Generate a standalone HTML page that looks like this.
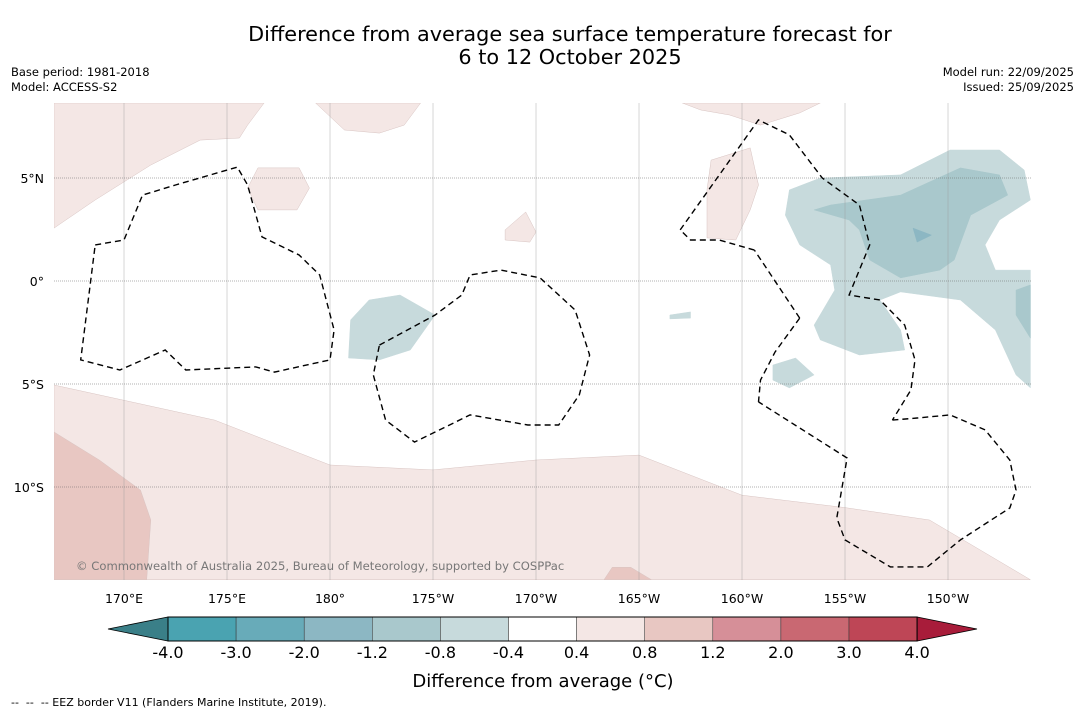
<!DOCTYPE html>
<html><head><meta charset="utf-8"><style>
body{margin:0;background:#fff;font-family:"DejaVu Sans","Liberation Sans",sans-serif;}
svg{display:block}
</style></head><body>
<svg id="chart" width="1085" height="713" xmlns="http://www.w3.org/2000/svg">
<text x="570" y="41" font-size="20.8" text-anchor="middle">Difference from average sea surface temperature forecast for</text>
<text x="570" y="64" font-size="20.8" text-anchor="middle">6 to 12 October 2025</text>
<text x="11" y="76" font-size="11.5">Base period: 1981-2018</text>
<text x="11" y="91" font-size="11.5">Model: ACCESS-S2</text>
<text x="1074" y="76" font-size="11.5" text-anchor="end">Model run: 22/09/2025</text>
<text x="1074" y="91" font-size="11.5" text-anchor="end">Issued: 25/09/2025</text>
<g id="map"></g>
<g id="cbar"></g>
<text x="543" y="687" font-size="18" text-anchor="middle">Difference from average (°C)</text>
<text x="11" y="706" font-size="11">-- &#160;-- &#160;-- EEZ border V11 (Flanders Marine Institute, 2019).</text>
</svg>
<script>
const lonTicks=[170,175,180,185,190,195,200,205,210];
const lonLabels=["170°E","175°E","180°","175°W","170°W","165°W","160°W","155°W","150°W"];
const latTicks=[5,0,-5,-10];
const latLabels=["5°N","0°","5°S","10°S"];
const cbLevels=["-4.0","-3.0","-2.0","-1.2","-0.8","-0.4","0.4","0.8","1.2","2.0","3.0","4.0"];
const cbColors=["#4aa3b1","#68abb9","#8cb7c3","#a9c8cc","#c7dadc","#ffffff","#f4e7e5","#e8c7c2","#d68f98","#c96872","#be4656"];
const pinkLight=[[166.6,-5.05],[174.4,-6.75],[180,-8.93],[185,-9.17],[190,-8.69],[195,-8.45],[200,-10.4],[205,-11.0],[209.1,-11.6],[214,-14.5],[166.6,-14.5]];
const pinkDark=[[166.6,-7.33],[168.8,-8.69],[170.8,-10.15],[171.3,-11.6],[171.1,-14.5],[166.6,-14.5]];
const pinkTL=[[166.6,8.64],[176.8,8.64],[176.0,7.57],[175.6,6.94],[173.7,6.84],[171.3,5.63],[168.6,3.93],[166.6,2.57]];
const pinkBlock=[[176.5,5.49],[178.5,5.49],[179.0,4.51],[178.4,3.45],[176.5,3.45],[176.0,4.51]];
const pinkTC=[[179.3,8.64],[180.7,7.33],[182.4,7.18],[183.6,7.57],[184.4,8.64]];
const pinkSmall=[[188.5,2.48],[189.5,3.35],[190.0,2.38],[189.7,1.89],[188.5,1.99]];
const pinkTR=[[197.1,8.64],[203.8,8.64],[202.8,8.16],[200.9,7.57],[199.4,8.06],[198.0,8.3]];
const pinkV=[[198.5,5.87],[200.4,6.46],[200.8,4.66],[200.4,3.45],[199.7,1.99],[198.3,2.09],[198.3,4.42]];
const pinkBot=[[193.3,-14.5],[193.7,-13.9],[194.6,-13.9],[195.6,-14.5]];
const blueOuter=[[202.3,4.42],[203.8,5.0],[207.7,5.15],[210.1,6.36],[212.5,6.36],[213.7,5.39],[214,3.93],[212.5,2.96],[211.8,1.75],[212.3,0.53],[214,0.53],[214,-5.19],[213.3,-4.56],[212.3,-2.38],[210.6,-0.92],[207.7,-0.53],[206.7,-0.92],[207.7,-2.38],[207.9,-3.35],[205.7,-3.59],[203.8,-2.86],[203.5,-2.14],[204.5,-0.44],[204.3,0.78],[202.8,1.75],[202.1,3.2]];
const blueInner=[[203.5,3.45],[204.3,3.69],[207.7,4.17],[210.6,5.49],[212.5,5.15],[212.9,4.17],[211.1,3.2],[210.3,1.02],[209.6,0.53],[207.7,0.15],[206.2,1.02],[205.7,2.48],[205.2,2.96]];
const blueSpot=[[208.3,2.57],[209.2,2.23],[208.5,1.89]];
const blueEdge=[[213.3,-0.44],[214,-0.19],[214,-2.77],[213.3,-1.65]];
const blueBlob=[[201.5,-4.08],[202.6,-3.74],[203.5,-4.56],[202.3,-5.19],[201.5,-4.81]];
const blueMid=[[181.0,-1.89],[181.9,-0.92],[183.4,-0.68],[185.1,-1.65],[183.9,-3.35],[182.4,-3.83],[180.9,-3.74]];
const blueTiny=[[196.5,-1.65],[197.5,-1.5],[197.5,-1.8],[196.5,-1.84]];
const eezLeft=[[168.6,1.75],[170.0,1.99],[170.9,4.17],[172.5,4.66],[175.5,5.53],[176.0,4.66],[176.7,2.14],[178.5,1.26],[179.5,0.29],[180.2,-2.38],[180,-3.83],[177.3,-4.42],[176.4,-4.17],[173.0,-4.32],[172.0,-3.35],[169.8,-4.32],[167.9,-3.83],[168.6,1.75]];
const eezMid=[[182.4,-3.11],[185.1,-1.65],[186.4,-0.68],[186.8,0.29],[188.3,0.53],[190.2,0.15],[191.9,-1.41],[192.6,-3.59],[192.1,-5.53],[191.1,-6.99],[189.6,-6.99],[186.8,-6.5],[184.1,-7.82],[182.7,-6.75],[182.1,-4.56],[182.4,-3.11]];
const eezLine=[[197.0,2.48],[200.8,7.82],[202.3,7.09],[203.9,5.0],[205.7,3.69],[206.2,1.75],[205.2,-0.68],[206.7,-0.92],[207.9,-2.14],[208.4,-3.83],[208.2,-5.29],[207.3,-6.75]];
const eezLine2=[[200.6,1.5],[198.9,1.99],[197.5,1.99],[197.0,2.48]];
const eezLine3=[[202.8,-1.8],[201.6,-3.45],[200.9,-4.81],[200.8,-5.87]];
const eezFP=[[207.3,-6.75],[208.5,-6.65],[210.1,-6.5],[211.8,-7.23],[213.0,-8.69],[213.3,-10.15],[213.0,-11.02],[210.6,-12.57],[209.0,-13.88],[207.2,-13.88],[205.0,-12.57],[204.6,-11.5],[205.1,-8.59],[200.8,-5.87]];
const eezJoin=[[202.8,-1.8],[200.6,1.5]];

const NS="http://www.w3.org/2000/svg";
const X=lon=>124+(lon-170)*20.6;
const Y=lat=>281-lat*20.6;
const L=54,R=1031,T=103,B=580;
const map=document.getElementById('map');
function mk(t,a,p){const e=document.createElementNS(NS,t);for(const k in a)e.setAttribute(k,a[k]);(p||map).appendChild(e);return e;}
const defs=mk('defs',{});const cp=mk('clipPath',{id:'clip'},defs);mk('rect',{x:L,y:T,width:R-L,height:B-T},cp);
const g=mk('g',{'clip-path':'url(#clip)'});
const pstr=a=>a.map(p=>X(p[0]).toFixed(1)+','+Y(p[1]).toFixed(1)).join(' ');
function poly(arr,fill,name,stroke){const e=mk('polygon',{points:pstr(arr),fill:fill,stroke:stroke||'#d8c4c2','stroke-width':0.5},g);

}
poly(pinkLight,'#f4e7e5','anomaly-0.4-southband');
poly(pinkDark,'#e8c7c2','anomaly-0.8-southwest');
poly(pinkTL,'#f4e7e5','anomaly-0.4-northwest');
poly(pinkBlock,'#f4e7e5','anomaly-0.4-block');
poly(pinkTC,'#f4e7e5','anomaly-0.4-northcentre');
poly(pinkSmall,'#f4e7e5','anomaly-0.4-small');
poly(pinkTR,'#f4e7e5','anomaly-0.4-northeast');
poly(pinkV,'#f4e7e5','anomaly-0.4-vertical');
poly(pinkBot,'#e8c7c2','anomaly-0.8-south');
poly(blueOuter,'#c7dadc','anomaly-neg0.4-east','#c7dadc');
poly(blueInner,'#a9c8cc','anomaly-neg0.8-east','#a9c8cc');
poly(blueSpot,'#8cb7c3','anomaly-neg1.2-spot','#8cb7c3');
poly(blueEdge,'#a9c8cc','anomaly-neg0.8-edge','#a9c8cc');
poly(blueBlob,'#c7dadc','anomaly-neg0.4-blob','#c7dadc');
poly(blueMid,'#c7dadc','anomaly-neg0.4-central','#c7dadc');
poly(blueTiny,'#c7dadc','anomaly-neg0.4-tiny','#c7dadc');
lonTicks.forEach((v,i)=>{const e=mk('line',{x1:X(v),x2:X(v),y1:T,y2:B,stroke:'#999','stroke-width':0.4},g);


const t=mk('text',{x:X(v),y:603,'font-size':12.5,'text-anchor':'middle'});t.textContent=lonLabels[i];

});
latTicks.forEach((v,i)=>{const e=mk('line',{x1:L,x2:R,y1:Y(v),y2:Y(v),stroke:'#666','stroke-width':0.6,'stroke-dasharray':'1,1'},g);


const t=mk('text',{x:44,y:Y(v)+5,'font-size':12.5,'text-anchor':'end'});t.textContent=latLabels[i];

});
[eezLeft,eezMid,eezLine,eezLine2,eezLine3,eezFP,eezJoin].forEach(a=>{const e=mk('polyline',{points:pstr(a),fill:'none',stroke:'#000','stroke-width':1.4,'stroke-dasharray':'6,4'},g);

});
const cr=mk('text',{x:76,y:570,'font-size':11.6,fill:'#777'},g);cr.textContent='© Commonwealth of Australia 2025, Bureau of Meteorology, supported by COSPPac';


const cb=document.getElementById('cbar');
const cx0=168,cw=68.1,cy=617,ch=24;
mk('polygon',{points:`108,629 ${cx0},${cy} ${cx0},${cy+ch}`,fill:'#3a7f88',stroke:'#000','stroke-width':0.8},cb);
cbColors.forEach((c,i)=>{const e=mk('rect',{x:cx0+i*cw,y:cy,width:cw,height:ch,fill:c,stroke:'#333','stroke-width':0.5},cb);

});
const xe=cx0+cbColors.length*cw;
mk('polygon',{points:`${xe},${cy} 977,629 ${xe},${cy+ch}`,fill:'#a81c3a',stroke:'#000','stroke-width':0.8},cb);
mk('rect',{x:cx0,y:cy,width:xe-cx0,height:ch,fill:'none',stroke:'#000','stroke-width':1},cb);
cbLevels.forEach((s,i)=>{const t=mk('text',{x:cx0+i*cw,y:658,'font-size':16,'text-anchor':'middle'},cb);t.textContent=s;

});
</script>
</body></html>
